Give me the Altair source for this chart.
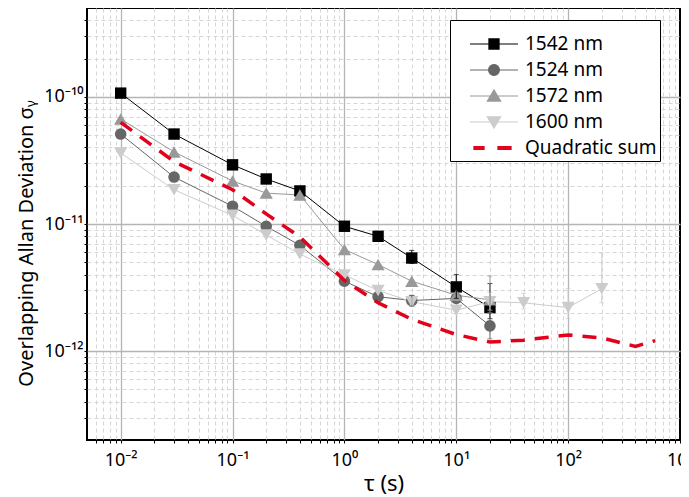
import altair as alt
import pandas as pd

# ---------------- data ----------------
tau = [0.01, 0.03, 0.1, 0.2, 0.4, 1, 2, 4, 10, 20]
s1542 = [1.07e-10, 5.1e-11, 2.92e-11, 2.26e-11, 1.82e-11, 9.6e-12, 8.0e-12, 5.4e-12, 3.2e-12, 2.2e-12]
s1524 = [5.1e-11, 2.34e-11, 1.38e-11, 9.6e-12, 6.8e-12, 3.55e-12, 2.68e-12, 2.5e-12, 2.6e-12, 1.58e-12]
s1572 = [6.7e-11, 3.69e-11, 2.18e-11, 1.75e-11, 1.69e-11, 6.3e-12, 4.8e-12, 3.55e-12, 2.75e-12, 2.53e-12]
tau1600 = [0.01, 0.03, 0.1, 0.2, 0.4, 1, 2, 4, 10, 20, 40, 100, 200]
s1600 = [3.62e-11, 1.86e-11, 1.17e-11, 8.2e-12, 5.8e-12, 3.97e-12, 3.0e-12, 2.45e-12, 2.1e-12, 2.45e-12, 2.4e-12, 2.2e-12, 3.1e-12]
tau_q = [0.01, 0.03, 0.1, 0.2, 0.4, 1, 2, 4, 10, 20, 40, 100, 200, 400, 600]
s_q = [6.3e-11, 3.1e-11, 1.86e-11, 1.2e-11, 7.9e-12, 3.6e-12, 2.4e-12, 1.78e-12, 1.35e-12, 1.18e-12,
       1.22e-12, 1.34e-12, 1.27e-12, 1.09e-12, 1.21e-12]

err_series = ["1542 nm", "1542 nm", "1542 nm", "1524 nm", "1524 nm", "1572 nm",
              "1600 nm", "1600 nm", "1600 nm", "1600 nm", "1600 nm"]
err_tau = [4, 10, 20, 4, 20, 20, 4, 20, 40, 100, 200]
err_lo = [4.9e-12, 2.6e-12, 1.8e-12, 2.25e-12, 1.25e-12, 2.0e-12, 2.3e-12, 2.1e-12, 2.15e-12, 1.8e-12, 2.4e-12]
err_hi = [6.2e-12, 4.0e-12, 3.4e-12, 2.75e-12, 2.0e-12, 3.9e-12, 2.65e-12, 2.9e-12, 2.85e-12, 3.1e-12, 5.9e-12]

series_names = ["1542 nm", "1524 nm", "1572 nm", "1600 nm", "Quadratic sum"]
series_colors = ["#000000", "#666666", "#999999", "#cccccc", "#e3001b"]
marker_shapes = ["square", "circle", "triangle-up", "triangle-down"]
marker_sizes = [130, 135, 175, 175]

# legend glyphs: line - marker - line (1 unit = 12 px, glyph 48 px wide)
legend_paths = [
    "M-2,0H-0.42M0.42,0H2M-0.42,-0.42H0.42V0.42H-0.42Z",
    "M-2,0H-0.45M0.45,0H2M-0.45,0A0.45,0.45,0,1,1,0.45,0A0.45,0.45,0,1,1,-0.45,0Z",
    "M-2,0H-0.3M0.3,0H2M-0.55,0.42L0,-0.5L0.55,0.42Z",
    "M-2,0H-0.3M0.3,0H2M-0.55,-0.42L0,0.5L0.55,-0.42Z",
    "M-1.67,-0.12H-0.83V0.12H-1.67ZM0.33,-0.12H1.42V0.12H0.33Z",
]

# ---------------- tables ----------------
rows = []
for name, xs, ys in [("1542 nm", tau, s1542), ("1524 nm", tau, s1524),
                     ("1572 nm", tau, s1572), ("1600 nm", tau1600, s1600)]:
    for a, b in zip(xs, ys):
        rows.append({"tau": a, "sigma": b, "series": name})
df = pd.DataFrame(rows)
df_q = pd.DataFrame({"tau": tau_q, "sigma": s_q})
df_err = pd.DataFrame({"tau": err_tau, "lo": err_lo, "hi": err_hi, "series": err_series})
df_leg = pd.DataFrame({"series": series_names})

# ---------------- axes ----------------
SUP = str.maketrans("-0123456789", "⁻⁰¹²³⁴⁵⁶⁷⁸⁹")


def label_expr(exps):
    parts = [f"abs(log(datum.value)/LN10 - ({e})) < 1e-6 ? '10{str(e).translate(SUP)}'" for e in exps]
    return " : ".join(parts) + " : ''"


def log_values(lo, hi, d0, d1):
    vals = []
    for d in range(d0, d1 + 1):
        for k in range(1, 10):
            v = float(f"{k}e{d}")
            if lo * 1.0001 < v < hi * 0.9999:
                vals.append(v)
    return vals


MAJOR = "abs(log(datum.value)/LN10 - round(log(datum.value)/LN10)) < 1e-6"
FONT = "Noto Sans"


def grid_style():
    return dict(
        grid=True,
        gridColor={"condition": {"test": MAJOR, "value": "#b5b5b5"}, "value": "#d6d6d6"},
        gridDash={"condition": {"test": MAJOR, "value": []}, "value": [4, 3]},
        gridWidth={"condition": {"test": MAJOR, "value": 1.3}, "value": 1},
        ticks=True, tickSize=3, tickColor="black", domain=False,
        labelFont=FONT, labelFontSize=18, labelColor="black",
        titleFont=FONT, titleColor="black", titleFontWeight="normal",
    )


xgs = grid_style()
xgs["gridColor"] = {"condition": [{"test": "datum.value > 999", "value": "black"},
                                  {"test": MAJOR, "value": "#b5b5b5"}], "value": "#d6d6d6"}
xgs["gridWidth"] = {"condition": [{"test": "datum.value > 999", "value": 2},
                                  {"test": MAJOR, "value": 1.3}], "value": 1}
xaxis = alt.Axis(values=log_values(0.005, 1000, -3, 3) + [1000.0],
                 labelExpr=label_expr([-2, -1, 0, 1, 2, 3]),
                 labelPadding=8, titleFontSize=22, titlePadding=4, labelFlush=False, labelOverlap=False,
                 **xgs)
yaxis = alt.Axis(values=log_values(2e-13, 5e-10, -13, -10), labelExpr=label_expr([-12, -11, -10]),
                 labelPadding=1, titleFontSize=20, titleX=-55, titleY=235, titleAngle=270,
                 titleAlign="center", titleBaseline="alphabetic", labelOverlap=False,
                 **grid_style())

xsc = alt.Scale(type="log", domain=[0.005, 1000], nice=False)
ysc = alt.Scale(type="log", domain=[2e-13, 5e-10], nice=False)
XT = "τ (s)"
YT = "Overlapping Allan Deviation σᵧ"
# data colour scale (measured series only) -- kept separate from the legend's scales
cscale = alt.Scale(domain=series_names[:4], range=series_colors[:4])

X = alt.X("tau:Q", scale=xsc, axis=xaxis, title=XT)
Y = alt.Y("sigma:Q", scale=ysc, axis=yaxis, title=YT)
C = alt.Color("series:N", scale=cscale, legend=None)

layers = []
layers.append(alt.Chart(df).mark_line(strokeWidth=1).encode(x=X, y=Y, color=C, order="tau:Q"))
for name, shp, sz in zip(series_names[:4], marker_shapes, marker_sizes):
    layers.append(
        alt.Chart(df).transform_filter(alt.datum.series == name)
        .mark_point(shape=shp, filled=True, size=sz, opacity=1)
        .encode(x=X, y=Y, color=C)
    )
layers.append(
    alt.Chart(df_err).mark_errorbar(ticks=True, thickness=1)
    .encode(x=alt.X("tau:Q", scale=xsc, axis=xaxis, title=XT),
            y=alt.Y("lo:Q", scale=ysc, axis=yaxis, title=YT),
            y2="hi:Q", color=C)
)
layers.append(
    alt.Chart(df_q).mark_line(color=series_colors[4], strokeWidth=3.5, strokeDash=[14, 10])
    .encode(x=X, y=Y)
)

leg = alt.Legend(title=" ", titleFontSize=8, titlePadding=0, orient="none", legendX=363, legendY=12,
                 padding=3, symbolOffset=28, symbolSize=576, symbolStrokeWidth=1.2, symbolOpacity=1,
                 labelFont=FONT, labelFontSize=19, labelColor="black", labelOffset=18,
                 labelExpr="datum.label + '\u00a0\u00a0\u00a0'",
                 rowPadding=3, strokeColor="black", fillColor="white")
layers.append(
    alt.Chart(df_leg).mark_point(filled=True, opacity=0)
    .encode(
        fill=alt.Fill("series:N", scale=alt.Scale(domain=series_names, range=series_colors), legend=leg),
        stroke=alt.Stroke("series:N", scale=alt.Scale(domain=series_names, range=series_colors), legend=leg),
        shape=alt.Shape("series:N", scale=alt.Scale(domain=series_names, range=legend_paths), legend=leg),
    )
)

chart = alt.layer(*layers).properties(
    width=593, height=432,
    autosize=alt.AutoSizeParams(type="none"),
    padding={"left": 79, "top": 0, "right": 1, "bottom": 57},
    background="white",
).configure_view(stroke="black", strokeWidth=2)

chart.save("out.html", embed_options={"renderer": "svg", "actions": False})
